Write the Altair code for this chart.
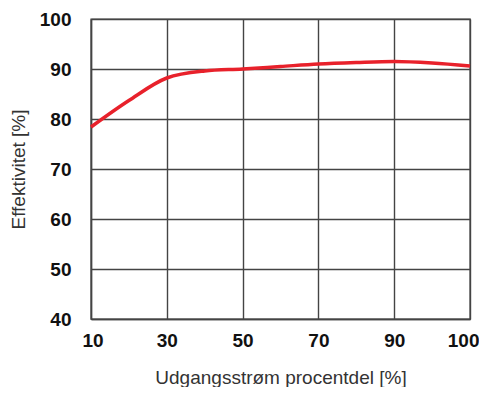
import altair as alt
import pandas as pd

# Output current percentage (x) and efficiency (y)
load_pct = [10, 20, 30, 40, 50, 60, 70, 80, 90, 95, 100]
efficiency = [78.4, 83.7, 88.2, 89.6, 90.0, 90.5, 91.0, 91.3, 91.5, 91.2, 90.6]
x_ticks = [10, 30, 50, 70, 90, 100]
y_ticks = [40, 50, 60, 70, 80, 90, 100]

df = pd.DataFrame({"x": load_pct, "y": efficiency})

W, H = 379, 300
font = "Liberation Sans"

chart = alt.Chart(df).mark_line(
    color="#e8212b", strokeWidth=3.5, interpolate="monotone"
).encode(
    x=alt.X("x:Q",
            scale=alt.Scale(domain=[10, 90, 100], range=[0, W * 4 / 5, W], nice=False, zero=False),
            axis=alt.Axis(values=x_ticks, title="Udgangsstrøm procentdel [%]",
                          labelFont=font, labelFontSize=19, labelFontWeight="bold", labelColor="#111",
                          titleFont=font, titleFontSize=19, titleFontWeight="normal", titleColor="#333",
                          ticks=False, labelPadding=12, titlePadding=18,
                          labelFlush=True, labelFlushOffset=9,
                          grid=True, gridColor="#444", gridWidth=1.4,
                          domainColor="#444", domainWidth=1.4)),
    y=alt.Y("y:Q",
            scale=alt.Scale(domain=[40, 100], nice=False, zero=False),
            axis=alt.Axis(values=y_ticks, title="Effektivitet [%]",
                          labelFont=font, labelFontSize=19, labelFontWeight="bold", labelColor="#111",
                          titleFont=font, titleFontSize=19, titleFontWeight="normal", titleColor="#333",
                          ticks=False, labelPadding=20, titlePadding=11, labelFlush=False,
                          grid=True, gridColor="#444", gridWidth=1.4,
                          domainColor="#444", domainWidth=1.4)),
).properties(
    width=W, height=H,
    padding={"left": 1, "top": 2, "right": 0, "bottom": 0},
).configure_view(stroke="#444", strokeWidth=1.4)

chart.save("out.html", embed_options={"renderer": "svg", "actions": False})
